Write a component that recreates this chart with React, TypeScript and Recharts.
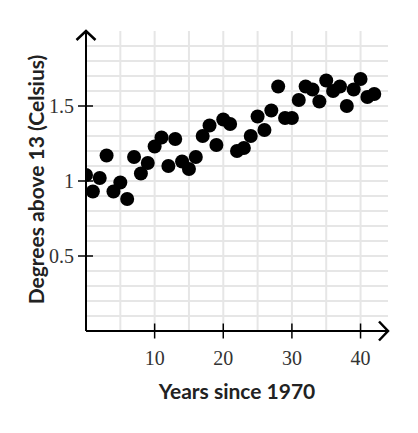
import React from 'react';
import {
  ScatterChart,
  Scatter,
  XAxis,
  YAxis,
  CartesianGrid,
  ReferenceDot,
  Label,
} from 'recharts';

const years = [
  0, 1, 2, 3, 4, 5, 6, 7, 8, 9, 10, 11, 12, 13, 14, 15, 16, 17, 18, 19, 20, 21,
  22, 23, 24, 25, 26, 27, 28, 29, 30, 31, 32, 33, 34, 35, 36, 37, 38, 39, 40,
  41, 42,
];
const temps = [
  1.04, 0.93, 1.02, 1.17, 0.93, 0.99, 0.88, 1.16, 1.05, 1.12, 1.23, 1.29, 1.1,
  1.28, 1.13, 1.08, 1.16, 1.3, 1.37, 1.24, 1.41, 1.38, 1.2, 1.22, 1.3, 1.43,
  1.34, 1.47, 1.63, 1.42, 1.42, 1.54, 1.63, 1.61, 1.53, 1.67, 1.6, 1.63, 1.5,
  1.61, 1.68, 1.56, 1.58,
];
const xTicks = [10, 20, 30, 40];
const yTicks = [0.5, 1, 1.5];
const xGrid = [5, 10, 15, 20, 25, 30, 35, 40];
const yGrid = [
  0.1, 0.2, 0.3, 0.4, 0.5, 0.6, 0.7, 0.8, 0.9, 1.0, 1.1, 1.2, 1.3, 1.4, 1.5,
  1.6, 1.7, 1.8, 1.9,
];
const xDomain = [0, 44];
const yDomain = [0, 2];

const data = years.map((x, i) => ({ x, y: temps[i] }));

const TICK_FONT = '"Liberation Serif", serif';
const LABEL_FONT = 'Lato, "Open Sans", sans-serif';

const XTick = (props: any) => {
  const { x, y, payload } = props;
  return (
    <g>
      <line x1={x} x2={x} y1={y - 7.5} y2={y + 7.5} stroke="#000" strokeWidth={1.5} />
      <text
        x={x}
        y={y + 34}
        textAnchor="middle"
        fontFamily={TICK_FONT}
        fontSize={20}
        fill="#333"
      >
        {payload.value}
      </text>
    </g>
  );
};

const YTick = (props: any) => {
  const { x, y, payload } = props;
  return (
    <g>
      <line x1={x - 8} x2={x + 7} y1={y} y2={y} stroke="#000" strokeWidth={1.5} />
      <text
        x={x - 12}
        y={y + 6.5}
        textAnchor="end"
        fontFamily={TICK_FONT}
        fontSize={20}
        fill="#333"
      >
        {payload.value}
      </text>
    </g>
  );
};

const Dot = (props: any) => {
  const { cx, cy } = props;
  return <circle cx={cx} cy={cy} r={7} fill="#000" />;
};

const RightArrow = (props: any) => {
  const { cx, cy } = props;
  return (
    <path
      d={`M ${cx - 9} ${cy - 9.5} L ${cx} ${cy} L ${cx - 9} ${cy + 9.5}`}
      stroke="#000"
      strokeWidth={2.5}
      fill="none"
      strokeLinejoin="miter"
    />
  );
};

const UpArrow = (props: any) => {
  const { cx, cy } = props;
  return (
    <path
      d={`M ${cx - 9.5} ${cy + 9} L ${cx} ${cy} L ${cx + 9.5} ${cy + 9}`}
      stroke="#000"
      strokeWidth={2.5}
      fill="none"
      strokeLinejoin="miter"
    />
  );
};

const YLabel = (props: any) => {
  const vb = props.viewBox || {};
  const cx = (vb.x ?? 0) + 35;
  const cy = (vb.y ?? 0) + (vb.height ?? 0) / 2 - 1.5;
  return (
    <text
      x={cx}
      y={cy}
      transform={`rotate(-90, ${cx}, ${cy})`}
      textAnchor="middle"
      dominantBaseline="central"
      fontFamily={LABEL_FONT}
      fontWeight={700}
      fontSize={21}
      fill="#222"
    >
      Degrees above 13 (Celsius)
    </text>
  );
};

export default function App() {
  return (
    <div style={{ position: 'absolute', left: 0, top: 0, background: '#fff' }}>
      <ScatterChart
        width={418}
        height={433}
        margin={{ top: 31, right: 30, bottom: 0, left: 0 }}
      >
        <CartesianGrid
          horizontalValues={yGrid}
          verticalValues={xGrid}
          stroke="#e6e6e6"
          strokeWidth={2}
        />
        <XAxis
          type="number"
          dataKey="x"
          domain={xDomain}
          ticks={xTicks}
          interval={0}
          height={102}
          allowDataOverflow
          axisLine={{ stroke: '#000', strokeWidth: 2 }}
          tickLine={false}
          tickSize={0}
          tickMargin={0}
          tick={<XTick />}
        >
          <Label
            value="Years since 1970"
            position="insideBottom"
            offset={34}
            fontFamily={LABEL_FONT}
            fontWeight={700}
            fontSize={21}
            fill="#222"
          />
        </XAxis>
        <YAxis
          type="number"
          dataKey="y"
          domain={yDomain}
          ticks={yTicks}
          interval={0}
          width={86}
          allowDataOverflow
          axisLine={{ stroke: '#000', strokeWidth: 2 }}
          tickLine={false}
          tickSize={0}
          tickMargin={0}
          tick={<YTick />}
        >
          <Label content={<YLabel />} />
        </YAxis>
        <Scatter data={data} shape={<Dot />} isAnimationActive={false} />
        <ReferenceDot x={xDomain[1]} y={yDomain[0]} ifOverflow="visible" shape={<RightArrow />} />
        <ReferenceDot x={xDomain[0]} y={yDomain[1]} ifOverflow="visible" shape={<UpArrow />} />
      </ScatterChart>
    </div>
  );
}
